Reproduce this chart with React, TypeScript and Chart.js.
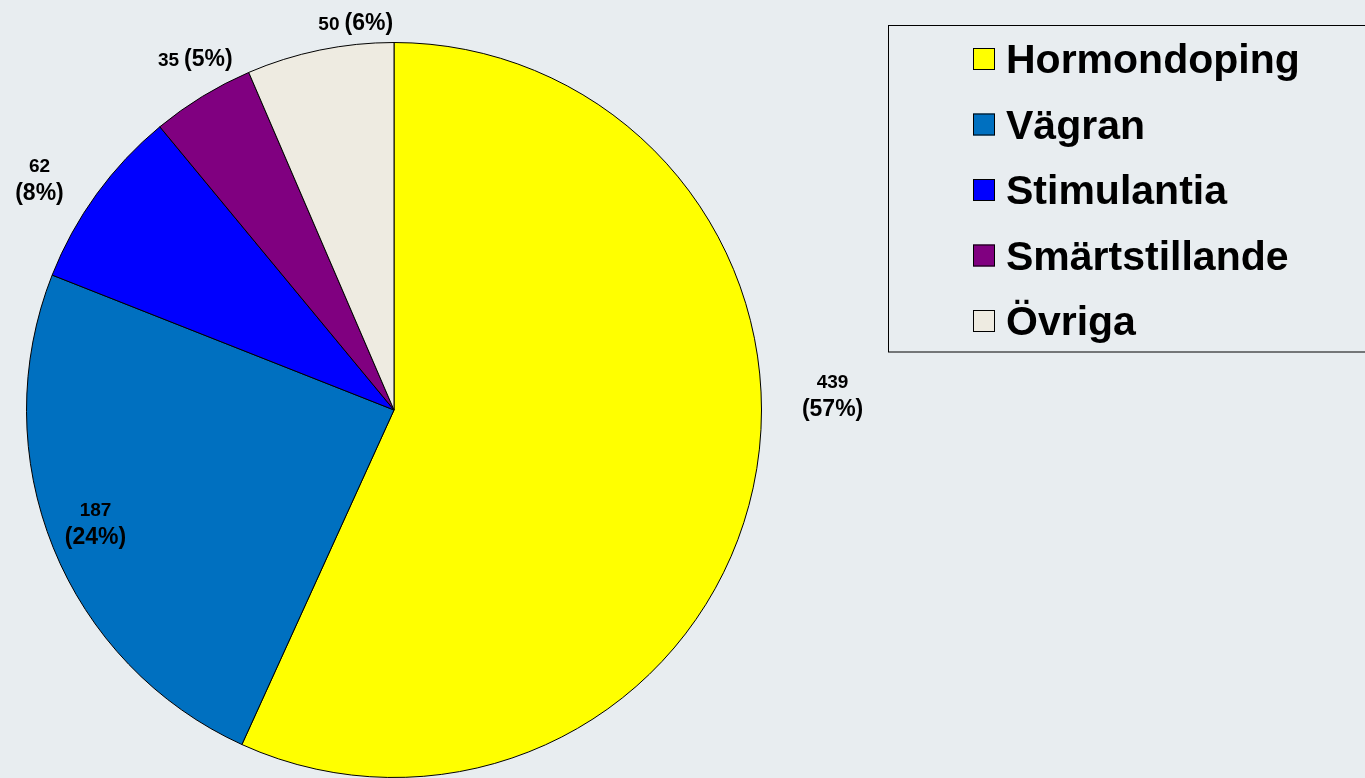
import React, { useEffect, useRef } from "react";
import { Chart, registerables } from "chart.js";

Chart.register(...registerables);

const categories = ["Hormondoping", "Vägran", "Stimulantia", "Smärtstillande", "Övriga"];
const values = [439, 187, 62, 35, 50];
const colors = ["#FFFF00", "#0070C0", "#0000FF", "#800080", "#EEEBE1"];

// label placement relative to each slice (radius factor, angle shift in degrees, single line?)
const LABEL_PLACEMENT = [
  { radius: 1.194, shift: -14, oneLine: false },
  { radius: 0.87, shift: 1, oneLine: false },
  { radius: 1.15, shift: -3, oneLine: false },
  { radius: 1.1, shift: 2, oneLine: true },
  { radius: 1.06, shift: 6, oneLine: true },
];

const FONT = '"Liberation Sans", Arial, Helvetica, sans-serif';
const BG = "#E8EDF0";

const sliceLabels = {
  id: "sliceLabels",
  afterDatasetsDraw(chart: any) {
    const ctx = chart.ctx;
    const meta = chart.getDatasetMeta(0);
    const total = values.reduce((a, b) => a + b, 0);
    ctx.save();
    ctx.fillStyle = "#000";
    meta.data.forEach((arc: any, i: number) => {
      const p = arc.getProps(["x", "y", "startAngle", "endAngle", "outerRadius"], true);
      const pl = LABEL_PLACEMENT[i];
      const ang = (p.startAngle + p.endAngle) / 2 + (pl.shift * Math.PI) / 180;
      const r = p.outerRadius * pl.radius;
      const lx = p.x + Math.cos(ang) * r;
      const ly = p.y + Math.sin(ang) * r;
      const numText = String(values[i]);
      const pctText = `(${Math.round((values[i] / total) * 100)}%)`;
      const numFont = `bold 19px ${FONT}`;
      const pctFont = `bold 23px ${FONT}`;
      if (pl.oneLine) {
        ctx.font = numFont;
        const nw = ctx.measureText(numText).width;
        ctx.font = pctFont;
        const pw = ctx.measureText(pctText).width;
        const gap = 5;
        const start = lx - (nw + gap + pw) / 2;
        ctx.textAlign = "left";
        ctx.textBaseline = "alphabetic";
        ctx.font = numFont;
        ctx.fillText(numText, start, ly + 8);
        ctx.font = pctFont;
        ctx.fillText(pctText, start + nw + gap, ly + 8);
      } else {
        ctx.textAlign = "center";
        ctx.textBaseline = "middle";
        ctx.font = numFont;
        ctx.fillText(numText, lx, ly - 13.5);
        ctx.font = pctFont;
        ctx.fillText(pctText, lx, ly + 13.5);
      }
    });
    ctx.restore();
  },
};

const boxLegend = {
  id: "boxLegend",
  afterDraw(chart: any) {
    const ctx = chart.ctx;
    ctx.save();
    ctx.strokeStyle = "#000";
    ctx.lineWidth = 1;
    ctx.strokeRect(888.5, 25.5, 490, 326.5);
    const labels = chart.data.labels as string[];
    const bgs = chart.data.datasets[0].backgroundColor as string[];
    ctx.font = `bold 41px ${FONT}`;
    ctx.textAlign = "left";
    ctx.textBaseline = "alphabetic";
    labels.forEach((lab, i) => {
      const base = 73 + i * 65.5;
      ctx.fillStyle = bgs[i];
      ctx.fillRect(973, base - 25, 22, 22);
      ctx.strokeStyle = "#000";
      ctx.strokeRect(973.5, base - 24.5, 21, 21);
      ctx.fillStyle = "#000";
      ctx.fillText(lab, 1006, base);
    });
    ctx.restore();
  },
};

export default function App() {
  const ref = useRef<HTMLCanvasElement | null>(null);
  useEffect(() => {
    if (!ref.current) return;
    const chart = new Chart(ref.current, {
      type: "pie",
      data: {
        labels: categories,
        datasets: [
          {
            data: values,
            backgroundColor: colors,
            borderColor: "#000",
            borderWidth: 1,
          },
        ],
      },
      options: {
        responsive: false,
        animation: false,
        layout: { padding: { left: 26, right: 603, top: 42, bottom: 0 } },
        plugins: {
          legend: { display: false },
          tooltip: { enabled: false },
        },
      },
      plugins: [sliceLabels, boxLegend],
    });
    return () => chart.destroy();
  }, []);
  return (
    <div
      style={{
        position: "fixed",
        left: 0,
        top: 0,
        width: 1365,
        height: 778,
        background: BG,
        overflow: "hidden",
      }}
    >
      <canvas ref={ref} width={1365} height={778} style={{ display: "block" }} />
    </div>
  );
}
